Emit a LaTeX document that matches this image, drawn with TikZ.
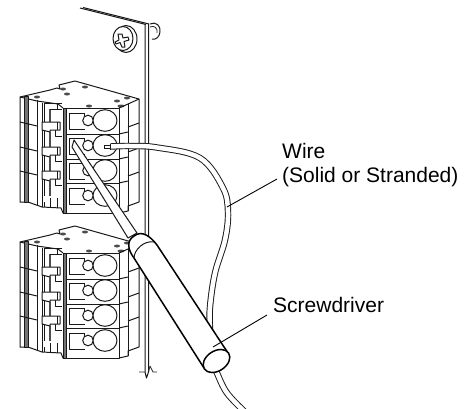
\documentclass[tikz,border=0pt]{standalone}
\usepackage{fontspec}
\setmainfont{Liberation Sans}
\tikzset{
  ln/.style={line width=1pt,draw=black!90,line join=round},
  thin ln/.style={line width=0.8pt,draw=black!85,line join=round},
  heavy/.style={line width=1.5pt,draw=black,line join=round},
  lead/.style={line width=0.9pt,draw=black},
  lab/.style={anchor=base west,inner sep=0pt,font=\fontsize{21pt}{24pt}\selectfont},
  hole/.style={fill=black!70,draw=none},
}
\newcommand{\tblock}[1]{%
\begin{scope}[yshift=#1]
  % outline and top surface
  \draw[ln,fill=white] (20,242) -- (50,235) -- (57,233) -- (60,234) -- (59,230) -- (75,226) -- (139,244) -- (139,347) -- (128,351) -- (128,356) -- (119,358) -- (63,358) -- (61,353) -- (42,352) -- (28,347) -- (20,347) -- cycle;
  \foreach \hx/\hy/\hr in {37/242/3,63/234/3,85/232/3,67/239/3,117/246/3,127/243/3,89/251/3,121/251/3.5}
    \fill[hole] (\hx,\hy) ellipse [x radius=\hr pt,y radius=1.5pt];
  % left profile
  \draw[ln] (20,242) -- (37,246) -- (58,249) -- (63,253);
  \draw[ln,fill=black!55] (24,241) rectangle (28,347);
  \draw[ln] (37,245) -- (37,350);
  \draw[ln] (42,248) -- (42,352);
  \draw[ln] (44,248) -- (62,248);
  \draw[ln] (44,248) -- (44,267);
  \draw[heavy,draw=black!70] (50,254) -- (50,267);
  \draw[ln] (50,254) -- (62,254);
  \draw[ln] (57,248) -- (57,254);
  \foreach \j in {279,304,328}{
    \draw[ln] (20,\j-12) -- (37,\j-8);
    \draw[ln,fill=white] (42,\j-12) -- (60,\j-12) -- (60,\j-4) -- (50,\j-4) -- (50,\j-2) -- (42,\j-4) -- cycle;
    \draw[ln] (55,\j-4) -- (55,\j+2) -- (62,\j+2);
    \draw[ln] (44,\j-3) -- (44,\j+13);
    \draw[heavy,draw=black!70] (50,\j-2) -- (50,\j+13);
    \draw[ln] (57,\j-12) -- (57,\j-4);
  }
  \draw[ln] (44,347) -- (44,352);
  \draw[ln] (50,343) -- (50,353);
  \draw[ln] (57,343) -- (57,353);
  % right side
  \draw[ln] (119,253) -- (128,249) -- (139,244);
  \draw[ln] (128,249) -- (128,356);
  \foreach \j in {279,304,328}{
    \draw[ln] (119,\j) -- (128,\j-2);
    \draw[ln] (128,\j-7) -- (139,\j-11);
  }
  % front
  \draw[ln,fill=white] (63,253) rectangle (119,358);
  \draw[ln,fill=black!55] (63,253) rectangle (66,358);
  \foreach \j in {279,304,328}{\draw[ln] (66,\j) -- (119,\j);}
  \foreach \r in {0,25,50,75}{
    \begin{scope}[yshift=-\r pt]
    \draw[ln] (84,258) -- (69,258) -- (69,274) -- (85,274);
    \draw[ln] (84,258) -- (84,261);
    \draw[ln,fill=white] (88,265.500) circle [radius=5.3pt];
    \draw[ln,fill=white] (105,265.500) ellipse [x radius=12pt,y radius=10.8pt];
    \end{scope}
  }
\end{scope}}
\begin{document}
\begin{tikzpicture}[x=1pt,y=-1pt]
\useasboundingbox (0,0) rectangle (474,408);
% plate
\draw[ln] (80,8) -- (146,24.500);
\draw[ln] (83,7.500) -- (149,24);
\draw[ln] (145,24) -- (145,372) -- (146.500,378) -- (148.500,372) -- (148.500,24);
\draw[thin ln] (139,372) -- (145,372) (148.500,372) -- (150,366) -- (153,372) -- (157,372);
\draw[ln] (150,24) .. controls (156,21) and (161,26) .. (160,32) .. controls (159.500,37) and (156,40) .. (152,39);
\draw[thin ln] (150,27) .. controls (154,25) and (158,28) .. (157,33);
% screw
\draw[ln,fill=white] (126,39) ellipse [x radius=11pt,y radius=13.500pt];
\draw[ln,fill=white] (123,38.500) ellipse [x radius=10pt,y radius=12pt];
\draw[ln] (115,42) -- (119,40) -- (118,34) -- (122,34) -- (123,38) -- (128,37) -- (129,40) -- (124,41.500) -- (125,47) -- (122,47) -- (120,42.500) -- (116,44) -- cycle;
% terminal blocks
\tblock{145pt}
\tblock{0pt}
% wire
\draw[ln] (104,145.200) -- (110,145.200) (104,148) -- (110,148) (104,145.200) -- (104,148);
\draw[line width=6.400pt,draw=black!90,line cap=butt] plot[smooth,tension=0.6] coordinates {(110.500,146.500) (130,146) (157,147.500) (200,158) (223,188) (228,212) (225,240) (215,273) (210,307) (210,330) (212,360) (217,373) (227,393) (245,412)};
\draw[line width=4.500pt,draw=white,line cap=butt] plot[smooth,tension=0.6] coordinates {(110.500,146.500) (130,146) (157,147.500) (200,158) (223,188) (228,212) (225,240) (215,273) (210,307) (210,330) (212,360) (217,373) (227,393) (245,412)};
\draw[ln] (110.500,143.500) -- (110.500,149.500);
% screwdriver shaft
\draw[ln,fill=white] (72,147) -- (74,140) -- (137,233) -- (128,238) -- cycle;
% screwdriver handle
\draw[heavy,fill=white] (134,258) .. controls (128,250) and (126,241) .. (134,236) .. controls (142,230) and (150,236) .. (157,245) -- (228,353) -- (204,368) -- cycle;
\draw[ln] (134,258) .. controls (134,250) and (144,240) .. (154,242);
\draw[heavy,fill=white,rotate around={33:(216.500,361)}] (216.500,361) ellipse [x radius=14.500pt,y radius=10pt];
% leaders
\coordinate (wl) at (277,179);
\coordinate (sl) at (267,315);
\draw[lead] (wl) -- (227,207);
\draw[lead] (sl) -- (213,347);
% labels
\node[lab] (w1) at (282,158) {Wire};
\node[lab] (w2) at (282,182) {(Solid or Stranded)};
\node[lab] (s1) at (273,312) {Screwdriver};
\end{tikzpicture}
\end{document}
